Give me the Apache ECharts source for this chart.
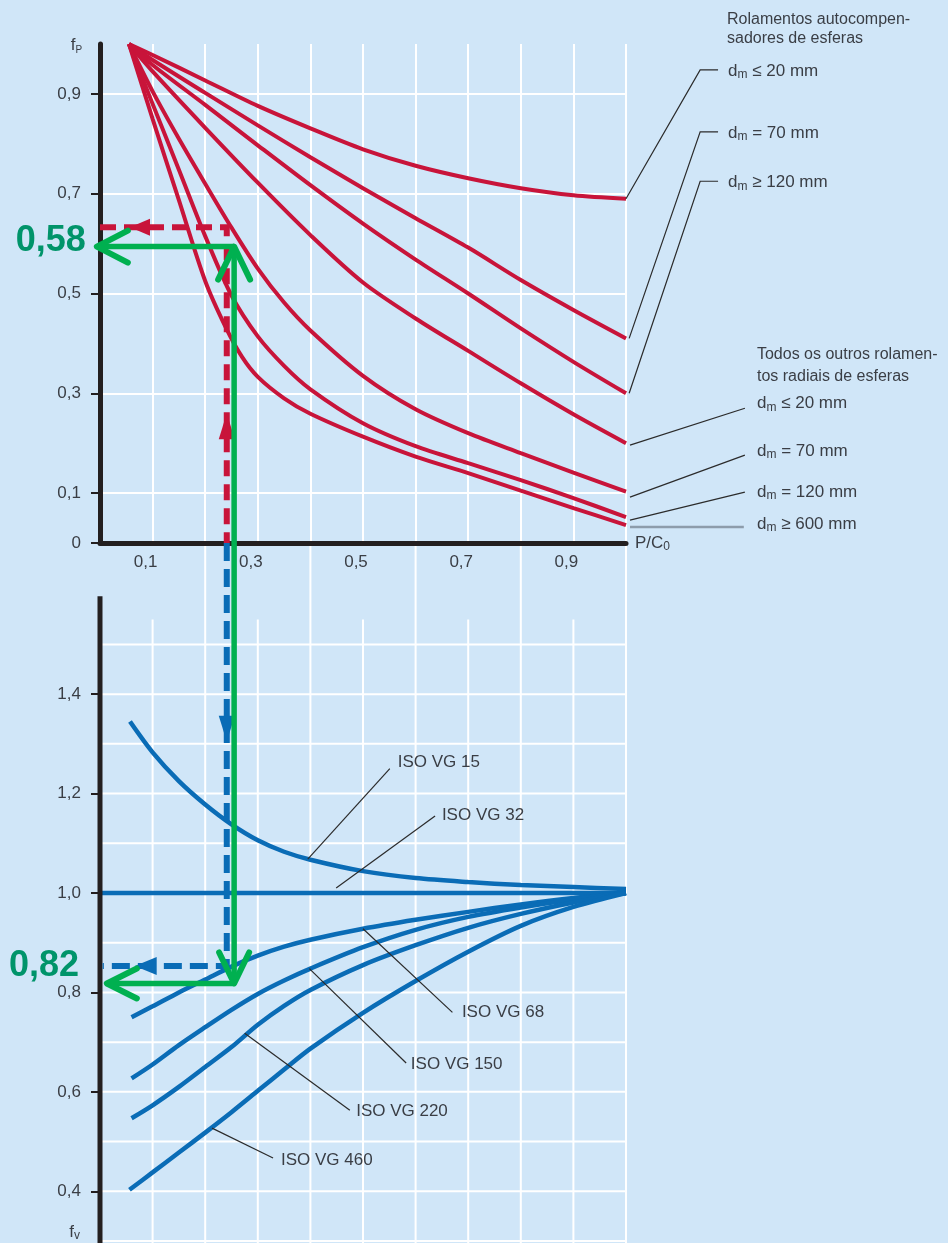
<!DOCTYPE html>
<html><head><meta charset="utf-8">
<script src="https://cdn.jsdelivr.net/npm/echarts@6/dist/echarts.min.js"></script>
<style>html,body{margin:0;padding:0;background:#d0e6f8}#c{width:948px;height:1243px}</style>
</head><body><div id="c"></div>
<script>
// ---------------- DATA ----------------
const xTickLabels = [0.1, 0.3, 0.5, 0.7, 0.9];
const fpTicks = [0, 0.1, 0.3, 0.5, 0.7, 0.9];
const fvTicks = [0.4, 0.6, 0.8, 1.0, 1.2, 1.4];

// f_p vs P/C0  (top chart)
const fpSelfAlign20  = [[0.055,1.0],[0.1,0.978],[0.2,0.927],[0.3,0.876],[0.4,0.831],[0.5,0.789],[0.6,0.756],[0.7,0.731],[0.8,0.711],[0.9,0.697],[1.0,0.69]];
const fpSelfAlign70  = [[0.055,1.0],[0.1,0.968],[0.2,0.902],[0.3,0.837],[0.4,0.773],[0.5,0.711],[0.6,0.651],[0.7,0.592],[0.8,0.527],[0.9,0.467],[1.0,0.41]];
const fpSelfAlign120 = [[0.055,1.0],[0.1,0.958],[0.2,0.878],[0.3,0.797],[0.4,0.717],[0.5,0.64],[0.6,0.568],[0.7,0.5],[0.8,0.43],[0.9,0.363],[1.0,0.30]];
const fpOther20  = [[0.055,1.0],[0.1,0.945],[0.2,0.832],[0.3,0.722],[0.4,0.617],[0.5,0.522],[0.6,0.45],[0.7,0.385],[0.8,0.32],[0.9,0.258],[1.0,0.20]];
const fpOther70  = [[0.055,1.0],[0.1,0.905],[0.15,0.81],[0.2,0.72],[0.25,0.632],[0.3,0.55],[0.35,0.482],[0.4,0.426],[0.5,0.335],[0.6,0.268],[0.7,0.22],[0.8,0.18],[0.9,0.141],[1.0,0.103]];
const fpOther120 = [[0.055,1.0],[0.1,0.88],[0.15,0.748],[0.2,0.615],[0.25,0.496],[0.3,0.414],[0.35,0.355],[0.4,0.308],[0.5,0.24],[0.6,0.194],[0.7,0.16],[0.8,0.126],[0.9,0.09],[1.0,0.052]];
const fpOther600 = [[0.055,1.0],[0.1,0.85],[0.15,0.687],[0.2,0.525],[0.24,0.43],[0.27,0.373],[0.3,0.333],[0.35,0.29],[0.4,0.259],[0.5,0.213],[0.6,0.173],[0.7,0.14],[0.8,0.105],[0.9,0.07],[1.0,0.036]];

// f_v vs P/C0  (bottom chart)
const fvVG15  = [[0.057,1.345],[0.1,1.283],[0.15,1.225],[0.2,1.178],[0.25,1.138],[0.3,1.106],[0.35,1.083],[0.4,1.067],[0.5,1.044],[0.6,1.03],[0.7,1.022],[0.8,1.016],[0.9,1.012],[1.0,1.008]];
const fvVG32  = [[0.0,1.0],[1.0,1.0]];
const fvVG68  = [[0.06,0.75],[0.1,0.772],[0.15,0.8],[0.2,0.826],[0.25,0.852],[0.3,0.874],[0.35,0.892],[0.4,0.906],[0.5,0.928],[0.6,0.946],[0.7,0.962],[0.8,0.977],[0.9,0.99],[1.0,1.0]];
const fvVG150 = [[0.06,0.627],[0.1,0.655],[0.15,0.694],[0.2,0.73],[0.25,0.765],[0.3,0.797],[0.35,0.824],[0.4,0.848],[0.5,0.891],[0.6,0.926],[0.7,0.952],[0.8,0.971],[0.9,0.987],[1.0,1.0]];
const fvVG220 = [[0.06,0.547],[0.1,0.573],[0.15,0.61],[0.2,0.65],[0.25,0.69],[0.3,0.735],[0.35,0.773],[0.4,0.805],[0.5,0.855],[0.6,0.895],[0.7,0.93],[0.8,0.958],[0.9,0.981],[1.0,1.0]];
const fvVG460 = [[0.056,0.403],[0.1,0.438],[0.15,0.478],[0.2,0.518],[0.25,0.559],[0.3,0.602],[0.35,0.645],[0.4,0.687],[0.5,0.759],[0.6,0.823],[0.7,0.882],[0.8,0.934],[0.9,0.972],[1.0,1.0]];

// worked example read-offs
const exampleRed  = { x: 0.241, fp: 0.633 };
const exampleBlue = { x: 0.241, fv: 0.853 };
const exampleGreen = { x: 0.255, fp: 0.594, fv: 0.818 };
const greenLabels = { fp: '0,58', fv: '0,82' };

// ---------------- STYLE ----------------
const FONT = '"Liberation Sans", Arial, sans-serif';
const INK = '#3a3e45', AXIS = '#231f20', RED = '#c8143a', BLUE = '#0a6cb6', GREEN = '#00b050', GREEN_TXT = '#00946a';
const fmt = v => (Math.abs(v) < 1e-9 ? '0' : v.toFixed(1).replace('.', ','));

const chart = echarts.init(document.getElementById('c'), null, { renderer: 'canvas' });

const redCurves = [fpSelfAlign20, fpSelfAlign70, fpSelfAlign120, fpOther20, fpOther70, fpOther120, fpOther600];
const blueCurves = [fvVG15, fvVG32, fvVG68, fvVG150, fvVG220, fvVG460];

const series = [];
redCurves.forEach(d => series.push({
  type: 'line', xAxisIndex: 0, yAxisIndex: 0, data: d, smooth: 0.3,
  showSymbol: false, silent: true, z: 3, lineStyle: { color: RED, width: 4 }
}));
blueCurves.forEach(d => series.push({
  type: 'line', xAxisIndex: 1, yAxisIndex: 1, data: d, smooth: 0.3,
  showSymbol: false, silent: true, z: 3, lineStyle: { color: BLUE, width: 4.5 }
}));

const labelStyle = { color: INK, fontSize: 17, fontFamily: FONT };

chart.setOption({
  backgroundColor: '#d0e6f8',
  animation: false,
  textStyle: { fontFamily: FONT },
  grid: [
    { left: 100, right: 322, top: 44, height: 499 },
    { left: 100, right: 322, top: 545, height: 696 }
  ],
  xAxis: [
    { gridIndex: 0, type: 'value', min: 0, max: 1, interval: 0.1,
      axisLine: { show: true, onZero: false, lineStyle: { color: AXIS, width: 5 } },
      axisTick: { show: false },
      axisLabel: Object.assign({ customValues: xTickLabels, formatter: fmt, margin: 11, padding: [0, 14, 0, 0] }, labelStyle),
      splitLine: { show: true, lineStyle: { color: '#ffffff', width: 2 } },
      name: 'P/C{s|0}', nameLocation: 'end', nameGap: 9,
      nameTextStyle: { color: INK, fontSize: 17, fontFamily: FONT, lineHeight: 20,
        rich: { s: { fontSize: 12, lineHeight: 12, verticalAlign: 'bottom', color: INK, fontFamily: FONT } } } },
    { gridIndex: 1, type: 'value', min: 0, max: 1, interval: 0.1, show: false }
  ],
  yAxis: [
    { gridIndex: 0, type: 'value', min: 0, max: 1, interval: 0.1,
      axisLine: { show: true, onZero: false, lineStyle: { color: AXIS, width: 5 } },
      axisTick: { show: true, customValues: fpTicks, length: 9, lineStyle: { color: AXIS, width: 2 } },
      axisLabel: Object.assign({ customValues: fpTicks, formatter: fmt, margin: 19 }, labelStyle),
      splitLine: { show: true, lineStyle: { color: '#ffffff', width: 2 } } },
    { gridIndex: 1, type: 'value', min: 0.3, max: 1.7, interval: 0.1,
      axisLine: { show: false },
      axisTick: { show: true, customValues: fvTicks, length: 9, lineStyle: { color: AXIS, width: 2 } },
      axisLabel: Object.assign({ customValues: fvTicks, formatter: fmt, margin: 19 }, labelStyle),
      splitLine: { show: false } }
  ],
  series
});

// ---------------- ANNOTATIONS (through the chart's own scales) ----------------
const P0 = (x, y) => chart.convertToPixel({ gridIndex: 0 }, [x, y]);
const P1 = (x, y) => chart.convertToPixel({ gridIndex: 1 }, [x, y]);
const G = [];
const line = (pts, stroke, w, z, extra) => G.push({ type: 'polyline', silent: true, z: z,
  shape: { points: pts }, style: Object.assign({ stroke: stroke, lineWidth: w, fill: null }, extra || {}) });
const tri = (apex, dir, len, half, fill) => {
  const [x, y] = apex; let pts;
  if (dir === 'left') pts = [[x, y], [x + len, y - half], [x + len, y + half]];
  if (dir === 'up') pts = [[x, y], [x - half, y + len], [x + half, y + len]];
  if (dir === 'down') pts = [[x, y], [x - half, y - len], [x + half, y - len]];
  G.push({ type: 'polygon', silent: true, z: 30, shape: { points: pts }, style: { fill: fill } });
};
const vee = (apex, dir, len, half) => {
  const [x, y] = apex; let pts;
  if (dir === 'left') pts = [[x + len, y - half], [x, y], [x + len, y + half]];
  if (dir === 'up') pts = [[x - half, y + len], [x, y], [x + half, y + len]];
  if (dir === 'down') pts = [[x - half, y - len], [x, y], [x + half, y - len]];
  line(pts, GREEN, 6, 40, { lineCap: 'round', lineJoin: 'round' });
};
const txt = (pt, text, o) => { o = o || {}; G.push({ type: 'text', silent: true, z: o.z || 25, x: pt[0], y: pt[1],
  style: Object.assign({ text: text, fill: o.fill || INK, font: o.font || ('17px ' + FONT),
    align: o.align || 'left', verticalAlign: 'middle', lineHeight: o.lh || 20 }, o.rich ? { rich: o.rich } : {}) }); };

const subRich = (mainSize, subSize, drop) => ({
  a: { font: mainSize + 'px ' + FONT, lineHeight: 20, fill: INK },
  s: { font: subSize + 'px ' + FONT, lineHeight: drop, verticalAlign: 'bottom', fill: INK }
});

// bottom grid: white grid lines and black axis
const fvRows = [0.3, 0.4, 0.5, 0.6, 0.7, 0.8, 0.9, 1.0, 1.1, 1.2, 1.3, 1.4, 1.5];
const gridCols = [0.1, 0.2, 0.3, 0.4, 0.5, 0.6, 0.7, 0.8, 0.9, 1.0];
fvRows.forEach(v => line([P1(0, v), P1(1, v)], '#ffffff', 2, 0));
gridCols.forEach((x, i) => line([P1(x, 0.29), P1(x, i % 2 === 1 ? 1.7 : 1.55)], '#ffffff', 2, 0));
line([P1(0, 0.29), P1(0, 1.597)], AXIS, 5, 5);

// axis symbols
txt(P0(-0.034, 0.997), '{a|f}{s|P}', { align: 'right', rich: subRich(17, 10, 11) });
txt(P1(-0.038, 0.318), '{a|f}{s|v}', { align: 'right', rich: subRich(17, 12, 11) });

// top-right legend texts and leader lines
txt(P0(1.192, 1.048), 'Rolamentos autocompen-', { font: '16px ' + FONT });
txt(P0(1.192, 1.010), 'sadores de esferas', { font: '16px ' + FONT });
const dmTop = [
  { end: [1.0, 0.69], y: 0.948, t: ' ≤ 20 mm' },
  { end: [1.006, 0.41], y: 0.824, t: ' = 70 mm' },
  { end: [1.006, 0.30], y: 0.725, t: ' ≥ 120 mm' }
];
dmTop.forEach(d => {
  line([P0(d.end[0], d.end[1]), P0(1.141, d.y), P0(1.175, d.y)], '#2b2b2b', 1.2, 20);
  txt(P0(1.194, d.y - 0.002), '{a|d}{s|m}{a|' + d.t + '}', { rich: subRich(17, 12, 11) });
});
txt(P0(1.249, 0.377), 'Todos os outros rolamen-', { font: '16px ' + FONT });
txt(P0(1.249, 0.333), 'tos radiais de esferas', { font: '16px ' + FONT });
const dmOther = [
  { end: [1.0076, 0.196], lab: [1.226, 0.270], y: 0.279, t: ' ≤ 20 mm' },
  { end: [1.0076, 0.092], lab: [1.226, 0.176], y: 0.184, t: ' = 70 mm' },
  { end: [1.0076, 0.046], lab: [1.226, 0.102], y: 0.102, t: ' = 120 mm' }
];
dmOther.forEach(d => {
  line([P0(d.end[0], d.end[1]), P0(d.lab[0], d.lab[1])], '#2b2b2b', 1.2, 20);
  txt(P0(1.249, d.y), '{a|d}{s|m}{a|' + d.t + '}', { rich: subRich(17, 12, 11) });
});
line([P0(1.0076, 0.032), P0(1.224, 0.032)], '#8d9cab', 2.5, 20);
txt(P0(1.249, 0.038), '{a|d}{s|m}{a| ≥ 600 mm}', { rich: subRich(17, 12, 11) });

// bottom viscosity labels
const vgLabels = [
  { from: [0.395, 1.068], to: [0.551, 1.250], at: [0.566, 1.262], t: 'ISO VG 15' },
  { from: [0.449, 1.010], to: [0.637, 1.155], at: [0.650, 1.157], t: 'ISO VG 32' },
  { from: [0.500, 0.928], to: [0.670, 0.760], at: [0.688, 0.759], t: 'ISO VG 68' },
  { from: [0.398, 0.848], to: [0.582, 0.658], at: [0.591, 0.656], t: 'ISO VG 150' },
  { from: [0.275, 0.718], to: [0.475, 0.563], at: [0.487, 0.561], t: 'ISO VG 220' },
  { from: [0.213, 0.527], to: [0.329, 0.467], at: [0.344, 0.463], t: 'ISO VG 460' }
];
vgLabels.forEach(d => {
  line([P1(d.from[0], d.from[1]), P1(d.to[0], d.to[1])], '#2b2b2b', 1.2, 20);
  txt(P1(d.at[0], d.at[1]), d.t);
});

// red dashed example
const rA = P0(0, exampleRed.fp), rB = P0(exampleRed.x, exampleRed.fp), rC = P0(exampleRed.x, 0);
line([rA, rB, rC], RED, 6, 28, { lineDash: [16, 8] });
tri(P0(0.057, exampleRed.fp), 'left', 20, 8.5, RED);
tri(P0(exampleRed.x, 0.26), 'up', 26, 8, RED);

// blue dashed example
const bA = P0(exampleBlue.x, 0), bB = P1(exampleBlue.x, exampleBlue.fv), bC = P1(0.005, exampleBlue.fv);
line([bA, bB, bC], BLUE, 6, 28, { lineDash: [18, 8] });
tri(P1(exampleBlue.x, 1.304), 'down', 26, 8, BLUE);
tri(P1(0.066, exampleBlue.fv), 'left', 22, 9, BLUE);

// green solid example
const gTop = P0(exampleGreen.x, exampleGreen.fp), gBot = P1(exampleGreen.x, exampleGreen.fv);
line([gTop, gBot], GREEN, 5.5, 35);
const gL1 = P0(-0.006, exampleGreen.fp), gL2 = P1(0.013, exampleGreen.fv);
line([gTop, gL1], GREEN, 5.5, 35);
line([gBot, gL2], GREEN, 5.5, 35);
vee(gTop, 'up', 33, 16);
vee(gBot, 'down', 31, 15);
vee(gL1, 'left', 31, 16);
vee(gL2, 'left', 30, 15);
txt(P0(-0.027, 0.605), greenLabels.fp, { align: 'right', fill: GREEN_TXT, font: 'bold 36px ' + FONT, lh: 40, z: 40 });
txt(P1(-0.040, 0.853), greenLabels.fv, { align: 'right', fill: GREEN_TXT, font: 'bold 36px ' + FONT, lh: 40, z: 40 });

chart.setOption({ graphic: { elements: G } });
</script>
</body></html>
